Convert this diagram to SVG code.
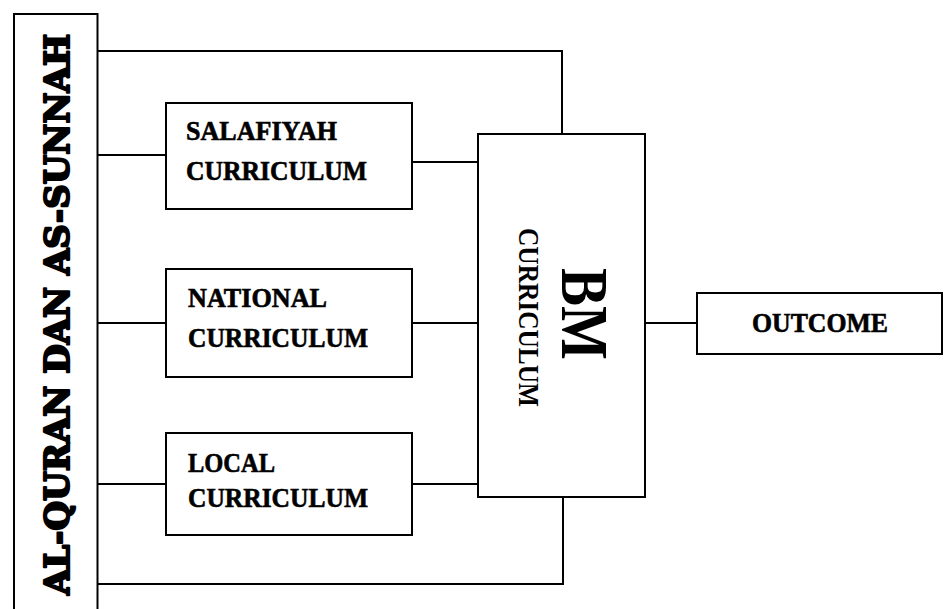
<svg xmlns="http://www.w3.org/2000/svg" width="944" height="609" viewBox="0 0 944 609">
<style>
.box{fill:#fff;stroke:#000;stroke-width:2}
.ln{fill:none;stroke:#000;stroke-width:2}
.lbl{font-family:"Liberation Serif","DejaVu Serif",serif;font-weight:bold;font-size:27px;fill:#000;stroke:#000;stroke-width:0.6}
.big{font-family:"DejaVu Serif",serif;font-weight:900;font-size:34px;fill:#000;stroke:#000;stroke-width:2.2;stroke-linejoin:round}
</style>
<rect width="944" height="609" fill="#fff"/>
<g id="connectors">
<polyline class="ln" points="97,51 562,51 562,134"/>
<polyline class="ln" points="97,584 563,584 563,496"/>
<line class="ln" x1="97" y1="155" x2="166" y2="155"/>
<line class="ln" x1="97" y1="323" x2="166" y2="323"/>
<line class="ln" x1="95" y1="484" x2="166" y2="484"/>
<line class="ln" x1="412" y1="162" x2="480" y2="162"/>
<line class="ln" x1="412" y1="323" x2="480" y2="323"/>
<line class="ln" x1="412" y1="484" x2="480" y2="484"/>
<line class="ln" x1="645" y1="323" x2="697" y2="323"/>
</g>
<g id="source">
<rect class="box" x="14" y="14" width="83.5" height="610"/>
<text class="big" transform="translate(69,595) rotate(-90)" textLength="561" lengthAdjust="spacingAndGlyphs">AL-QURAN DAN AS-SUNNAH</text>
</g>
<g id="salafiyah">
<rect class="box" x="166" y="103" width="246" height="106"/>
<text class="lbl" x="186" y="140" textLength="151" lengthAdjust="spacingAndGlyphs">SALAFIYAH</text>
<text class="lbl" x="186" y="180" textLength="181" lengthAdjust="spacingAndGlyphs">CURRICULUM</text>
</g>
<g id="national">
<rect class="box" x="166" y="269" width="246" height="108"/>
<text class="lbl" x="188" y="307" textLength="139" lengthAdjust="spacingAndGlyphs">NATIONAL</text>
<text class="lbl" x="188" y="347" textLength="180" lengthAdjust="spacingAndGlyphs">CURRICULUM</text>
</g>
<g id="local">
<rect class="box" x="166" y="433" width="246" height="102"/>
<text class="lbl" x="188" y="472" textLength="87" lengthAdjust="spacingAndGlyphs">LOCAL</text>
<text class="lbl" x="188" y="507" textLength="180" lengthAdjust="spacingAndGlyphs">CURRICULUM</text>
</g>
<g id="bm">
<rect class="box" x="478" y="134" width="167" height="363"/>
<text transform="translate(562,268) rotate(90)" font-family="Liberation Serif, serif" font-weight="bold" font-size="68" textLength="92" lengthAdjust="spacingAndGlyphs">BM</text>
<text transform="translate(519,228) rotate(90)" font-family="Liberation Serif, serif" font-weight="bold" font-size="30" textLength="179" lengthAdjust="spacingAndGlyphs">CURRICULUM</text>
</g>
<g id="outcome">
<rect class="box" x="697" y="293" width="245" height="61"/>
<text class="lbl" x="752" y="332" textLength="136" lengthAdjust="spacingAndGlyphs">OUTCOME</text>
</g>
</svg>
